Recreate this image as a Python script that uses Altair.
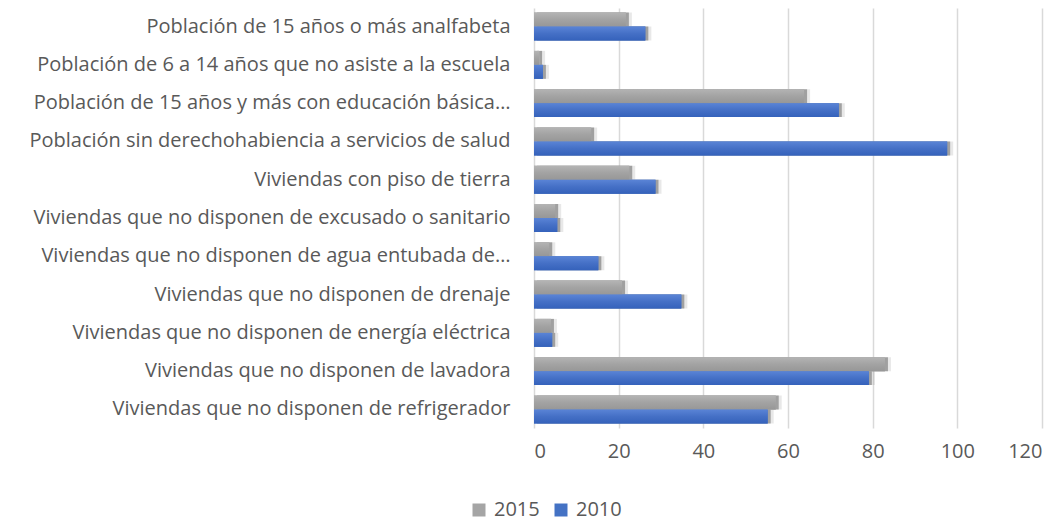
import altair as alt
import pandas as pd

categories = [
    "Población de 15 años o más analfabeta",
    "Población de 6 a 14 años que no asiste a la escuela",
    "Población de 15 años y más con educación básica…",
    "Población sin derechohabiencia a servicios de salud",
    "Viviendas con piso de tierra",
    "Viviendas que no disponen de excusado o sanitario",
    "Viviendas que no disponen de agua entubada de…",
    "Viviendas que no disponen de drenaje",
    "Viviendas que no disponen de energía eléctrica",
    "Viviendas que no disponen de lavadora",
    "Viviendas que no disponen de refrigerador",
]
values_2015 = [21.7, 1.2, 63.8, 13.5, 22.5, 5.0, 3.6, 20.8, 4.0, 82.9, 57.1]
values_2010 = [26.3, 2.1, 72.0, 97.6, 28.7, 5.5, 15.2, 34.8, 4.3, 79.1, 55.2]
series = ["2015", "2010"]
x_ticks = [0, 20, 40, 60, 80, 100, 120]

rows = []
for c, a, b in zip(categories, values_2015, values_2010):
    rows.append({"cat": c, "serie": "2015", "valor": a})
    rows.append({"cat": c, "serie": "2010", "valor": b})
df = pd.DataFrame(rows)

FONT = "Open Sans"
TXT = "#595959"
FS = 20

y_enc = alt.Y("cat:N", sort=categories, title=None,
              scale=alt.Scale(paddingInner=0.27, paddingOuter=0.12),
              axis=alt.Axis(labelFont=FONT, labelFontSize=FS, labelColor=TXT,
                            labelPadding=24, labelLimit=700, ticks=False,
                            domain=False, grid=False))
yoff = alt.YOffset("serie:N", sort=series, scale=alt.Scale(domain=series))
x_enc = alt.X("valor:Q", title=None,
              scale=alt.Scale(domain=[0, 120], nice=False),
              axis=alt.Axis(values=x_ticks, labelFont=FONT, labelFontSize=FS,
                            labelColor=TXT, labelPadding=13, ticks=False,
                            domain=False, grid=True, gridColor="#d9d9d9",
                            gridWidth=1.5))

shadow_far = alt.Chart(df).mark_bar(color="#8a8a8a", opacity=0.2, xOffset=6, yOffset=7).encode(
    y=y_enc, yOffset=yoff, x=x_enc)
shadow = alt.Chart(df).mark_bar(color="#6f6f6f", opacity=0.6, xOffset=3, yOffset=4).encode(
    y=y_enc, yOffset=yoff, x=x_enc)

base = alt.Chart(df).mark_bar().encode(
    y=y_enc, yOffset=yoff, x=x_enc,
    color=alt.Color("serie:N", sort=series,
                    scale=alt.Scale(domain=series, range=["#a5a5a5", "#4472c4"]),
                    legend=alt.Legend(title=None, orient="none", direction="horizontal",
                                      legendX=-69, legendY=488, symbolType="square",
                                      symbolSize=169, symbolStrokeWidth=0,
                                      labelFont=FONT, labelFontSize=FS, labelColor=TXT,
                                      columnPadding=11, labelOffset=5, padding=4)))

gray_grad = alt.Gradient(gradient="linear", x1=0, x2=0, y1=0, y2=1,
                         stops=[alt.GradientStop(color="#b4b4b4", offset=0),
                                alt.GradientStop(color="#a3a3a3", offset=0.5),
                                alt.GradientStop(color="#979797", offset=1)])
blue_grad = alt.Gradient(gradient="linear", x1=0, x2=0, y1=0, y2=1,
                         stops=[alt.GradientStop(color="#5a84d6", offset=0),
                                alt.GradientStop(color="#4570c6", offset=0.5),
                                alt.GradientStop(color="#3562bb", offset=1)])

g15 = alt.Chart(df).transform_filter(alt.datum.serie == "2015").mark_bar(fill=gray_grad).encode(
    y=y_enc, yOffset=yoff, x=x_enc)
g10 = alt.Chart(df).transform_filter(alt.datum.serie == "2010").mark_bar(fill=blue_grad).encode(
    y=y_enc, yOffset=yoff, x=x_enc)

chart = alt.layer(shadow_far, shadow, base, g15, g10).properties(
    width=508, height=420,
    autosize=alt.AutoSizeParams(type="none"),
    padding={"left": 526, "top": 0, "right": 12, "bottom": 95},
    background="white",
).configure_view(stroke=None)

chart.save("out.html", embed_options={"renderer": "svg", "actions": False})
